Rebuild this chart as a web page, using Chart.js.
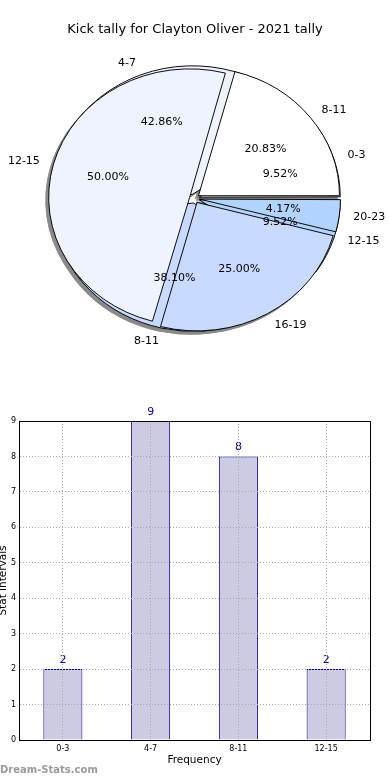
<!DOCTYPE html>
<html><head><meta charset="utf-8">
<script src="https://cdn.jsdelivr.net/npm/chart.js@4.4.1/dist/chart.umd.min.js"></script>
<style>
html,body{margin:0;padding:0;background:#fff;width:390px;height:780px;overflow:hidden;font-family:"DejaVu Sans";}
#title{position:absolute;left:0;top:21px;width:390px;text-align:center;font-size:13px;line-height:16px;color:#000;}
#pieWrap{position:absolute;left:0;top:0;width:390px;height:390px;filter:drop-shadow(-2.5px 3px 0.5px rgba(40,40,40,0.55));}
#pieWrap canvas{position:absolute;left:0;top:0;}
#pieLabels{position:absolute;left:0;top:0;}
#barBox{position:absolute;left:0;top:400px;width:390px;height:380px;}
#barBox canvas{position:absolute;left:0;top:0;}
#mark{position:absolute;left:0;top:763px;font-size:10px;font-weight:bold;line-height:14px;color:#9a9a9a;}
</style></head><body>
<div id="pieWrap"><canvas id="pie1" width="390" height="390"></canvas><canvas id="pie2" width="390" height="390"></canvas></div>
<canvas id="pieLabels" width="390" height="390"></canvas>
<div id="title">Kick tally for Clayton Oliver - 2021 tally</div>
<div id="barBox"><canvas id="bar" width="390" height="380"></canvas></div>
<div id="mark">Dream-Stats.com</div>
<script>
// ---- data ----
const pie1Labels = ['0-3', '4-7', '8-11', '12-15'];
const pie1Values = [2, 9, 8, 2];
const pie2Labels = ['8-11', '12-15', '16-19', '20-23'];
const pie2Values = [5, 12, 6, 1];
const sliceColors = ['#ffffff', '#eef3ff', '#c8daff', '#b3d3ff'];
const barCategories = ['0-3', '4-7', '8-11', '12-15'];
const barValues = [2, 9, 8, 2];
const yTicks = [0, 1, 2, 3, 4, 5, 6, 7, 8, 9];

Chart.defaults.font.family = 'DejaVu Sans';

const R = 141;        // pie radius (px, horizontal)
const K = 0.911;      // vertical squash of the pie
const EXPLODE = 20;   // Chart.js offset (moves slice by EXPLODE/4 px)

function rev(a) { return a.slice().reverse(); }

const squash = {
  id: 'squash',
  beforeDatasetsDraw(chart) {
    const arcs = chart.getDatasetMeta(0).data;
    arcs.forEach(a => {
      const ro = (EXPLODE / 4) * (1 - Math.sin(Math.min(Math.PI, a.circumference)));
      a.outerRadius = R - ro;
    });
    const c = arcs[0];
    const ctx = chart.ctx;
    ctx.save();
    ctx.translate(c.x, c.y);
    ctx.scale(1, K);
    ctx.translate(-c.x, -c.y);
  },
  afterDatasetsDraw(chart) { chart.ctx.restore(); }
};

function makePie(id, labels, values) {
  return new Chart(document.getElementById(id), {
    type: 'pie',
    data: {
      labels: rev(labels),
      datasets: [{
        data: rev(values),
        backgroundColor: rev(sliceColors),
        borderColor: '#000',
        borderWidth: 1,
        offset: EXPLODE,
        hoverOffset: 0
      }]
    },
    options: {
      responsive: false, animation: false, events: [],
      rotation: 90, radius: R,
      layout: { padding: { left: 0, right: 1, top: 7, bottom: 0 } },
      plugins: { legend: { display: false }, tooltip: { enabled: false } }
    },
    plugins: [squash]
  });
}

const pie1 = makePie('pie1', pie1Labels, pie1Values);
const pie2 = makePie('pie2', pie2Labels, pie2Values);

function drawPieLabels(chart, ctx) {
  const meta = chart.getDatasetMeta(0);
  const data = chart.data.datasets[0].data;
  const labels = chart.data.labels;
  const total = data.reduce((s, v) => s + v, 0);
  const e = EXPLODE / 4;
  ctx.save();
  ctx.font = '11px "DejaVu Sans"';
  ctx.fillStyle = '#000';
  ctx.textBaseline = 'middle';
  meta.data.forEach((arc, i) => {
    const mid = (arc.startAngle + arc.endAngle) / 2;
    const dx = Math.cos(mid), dy = Math.sin(mid);
    const lr = 1.1 * R + e;
    ctx.textAlign = dx > 0 ? 'left' : 'right';
    ctx.fillText(labels[i], arc.x + dx * lr, arc.y + dy * lr * K);
    const pr = 0.6 * R + e;
    ctx.textAlign = 'center';
    ctx.fillText((data[i] / total * 100).toFixed(2) + '%', arc.x + dx * pr, arc.y + dy * pr * K);
  });
  ctx.restore();
}
const lctx = document.getElementById('pieLabels').getContext('2d');
drawPieLabels(pie1, lctx);
drawPieLabels(pie2, lctx);

// ---- bar chart ----
const valueLabels = {
  id: 'valueLabels',
  afterDatasetsDraw(chart) {
    const ctx = chart.ctx;
    const meta = chart.getDatasetMeta(0);
    const data = chart.data.datasets[0].data;
    ctx.save();
    ctx.font = '11px "DejaVu Sans"';
    ctx.fillStyle = '#000080';
    ctx.textAlign = 'center';
    ctx.textBaseline = 'middle';
    meta.data.forEach((b, i) => ctx.fillText(String(data[i]), b.x, b.y - 9));
    ctx.restore();
  }
};

const gridCol = '#a8a8a8';
new Chart(document.getElementById('bar'), {
  type: 'bar',
  data: {
    labels: barCategories,
    datasets: [{
      data: barValues,
      backgroundColor: '#cbcbe4',
      borderColor: '#000080',
      borderWidth: 1,
      barPercentage: 0.445,
      categoryPercentage: 1
    }]
  },
  options: {
    responsive: false, animation: false, events: [],
    layout: { padding: { left: 0, right: 20, top: 21, bottom: 0 } },
    plugins: { legend: { display: false }, tooltip: { enabled: false } },
    scales: {
      x: {
        position: 'bottom',
        grid: { offset: false, color: gridCol, lineWidth: 1, drawTicks: false, z: 1 },
        border: { display: true, color: '#000', width: 1, dash: [1, 2], z: 2 },
        ticks: { font: { size: 8 }, color: '#000', padding: 4, maxRotation: 0 },
        title: { display: true, text: 'Frequency', font: { size: 10.5 }, color: '#000', padding: { top: 0, bottom: 13.7 } },
        afterFit(s) { s.height = 40; }
      },
      y: {
        position: 'left', min: 0, max: 9,
        afterBuildTicks(s) { s.ticks = yTicks.map(v => ({ value: v })); },
        grid: { color: gridCol, lineWidth: 1, drawTicks: false, z: 1 },
        border: { display: true, color: '#000', width: 1, dash: [1, 2], z: 2 },
        ticks: { font: { size: 8 }, color: '#000', padding: 3 },
        title: { display: true, text: 'Stat intervals', font: { size: 10.5 }, color: '#000', padding: { top: -2.8, bottom: 0 } },
        afterFit(s) { s.width = 19; }
      },
      xTop: {
        position: 'top', type: 'category', labels: barCategories,
        grid: { display: false }, ticks: { display: false },
        border: { display: true, color: '#000', width: 1, z: 2 },
        afterFit(s) { s.height = 0; }
      },
      yRight: {
        position: 'right', type: 'linear', min: 0, max: 9,
        grid: { display: false }, ticks: { display: false },
        border: { display: true, color: '#000', width: 1, z: 2 },
        afterFit(s) { s.width = 0; }
      }
    }
  },
  plugins: [valueLabels]
});
</script>
</body></html>
